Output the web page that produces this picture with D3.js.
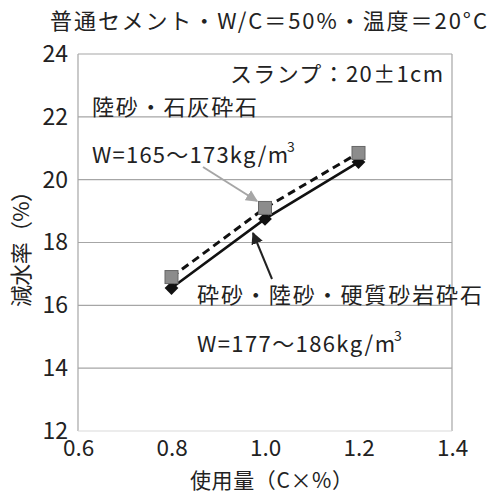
<!DOCTYPE html>
<html><head><meta charset="utf-8">
<script src="https://cdn.jsdelivr.net/npm/d3@7"></script>
<style>
html,body{margin:0;padding:0;background:#fff;}
text{font-family:"Noto Sans CJK JP","Noto Sans",sans-serif;fill:#222;}
</style></head>
<body><svg id="c" width="490" height="495"></svg>
<script>
const xDoses = [0.8, 1.0, 1.2];
const seriesLimestone = [16.9, 19.1, 20.85];   // 陸砂・石灰砕石 (gray squares, dashed)
const seriesSandstone = [16.55, 18.75, 20.56]; // 砕砂・陸砂・硬質砂岩砕石 (black diamonds, solid)
const xTicks = [0.6, 0.8, 1.0, 1.2, 1.4];
const yTicks = [12, 14, 16, 18, 20, 22, 24];

const svg = d3.select("#c");
const L = 78, R = 452, T = 54, B = 431;
const x = d3.scaleLinear().domain([0.6, 1.4]).range([L, R]);
const y = d3.scaleLinear().domain([12, 24]).range([B, T]);

// grid
svg.append("g").selectAll("line").data(yTicks.filter(v => v > 12 && v < 24)).join("line")
  .attr("x1", L).attr("x2", R).attr("y1", d => y(d)).attr("y2", d => y(d))
  .attr("stroke", "#a6a6a6").attr("stroke-width", 1.2);
// frame
svg.append("line").attr("x1", L).attr("x2", R).attr("y1", T).attr("y2", T).attr("stroke", "#a6a6a6").attr("stroke-width", 1.2);
svg.append("line").attr("x1", R).attr("x2", R).attr("y1", T).attr("y2", B).attr("stroke", "#a6a6a6").attr("stroke-width", 1.2);
svg.append("line").attr("x1", L).attr("x2", L).attr("y1", T).attr("y2", B).attr("stroke", "#a6a6a6").attr("stroke-width", 1.2);
svg.append("line").attr("x1", L).attr("x2", R).attr("y1", B).attr("y2", B).attr("stroke", "#d9d9d9").attr("stroke-width", 1.2);

// axes tick labels via d3 axes
const yAxis = svg.append("g").attr("transform", `translate(${L},0)`)
  .call(d3.axisLeft(y).tickValues(yTicks).tickFormat(d3.format("d")).tickSize(0).tickPadding(10));
yAxis.select(".domain").remove();
yAxis.selectAll("text").attr("font-size", 23).attr("fill", "#222")
  .attr("font-family", '"Noto Sans CJK JP",sans-serif');

const xAxis = svg.append("g").attr("transform", `translate(0,${B})`)
  .call(d3.axisBottom(x).tickValues(xTicks).tickFormat(d3.format(".1f")).tickSize(0).tickPadding(9));
xAxis.select(".domain").remove();
xAxis.selectAll("text").attr("font-size", 22.5).attr("fill", "#222")
  .attr("font-family", '"Noto Sans CJK JP",sans-serif');

function label(xp, yp, str, len, size) {
  return svg.append("text").attr("x", xp).attr("y", yp).attr("font-size", size || 22)
    .attr("textLength", len).attr("lengthAdjust", "spacing").text(str);
}

// titles
label(50, 29, "普通セメント・W/C＝50%・温度＝20°C", 437);
label(190, 488, "使用量（C×%）", 163, 21);
svg.append("text").attr("transform", "translate(29,307) rotate(-90)").attr("font-size", 22)
  .attr("textLength", 127).attr("lengthAdjust", "spacing").text("減水率（%）");

// annotations
label(230, 82, "スランプ：20±1cm", 213);
label(92, 115, "陸砂・石灰砕石", 165);
label(92, 163, "W=165～173kg/m", 196);
svg.append("text").attr("x", 287).attr("y", 152).attr("font-size", 14).text("3");
label(197, 303, "砕砂・陸砂・硬質砂岩砕石", 285);
label(197, 352, "W=177～186kg/m", 198);
svg.append("text").attr("x", 394).attr("y", 341).attr("font-size", 14).text("3");

// arrow markers
const defs = svg.append("defs");
defs.append("marker").attr("id", "ag").attr("viewBox", "0 0 10 10").attr("refX", 9).attr("refY", 5)
  .attr("markerWidth", 6).attr("markerHeight", 6).attr("markerUnits", "strokeWidth").attr("orient", "auto")
  .append("path").attr("d", "M0,0L10,5L0,10z").attr("fill", "#a6a6a6");
defs.append("marker").attr("id", "ab").attr("viewBox", "0 0 10 10").attr("refX", 9).attr("refY", 5)
  .attr("markerWidth", 6).attr("markerHeight", 6).attr("markerUnits", "strokeWidth").attr("orient", "auto")
  .append("path").attr("d", "M0,0L10,5L0,10z").attr("fill", "#222");

// lines
const line = d3.line().x((d, i) => x(xDoses[i])).y(d => y(d));
svg.append("path").attr("d", line(seriesSandstone)).attr("fill", "none").attr("stroke", "#111").attr("stroke-width", 2.6);
svg.append("path").attr("d", line(seriesLimestone)).attr("fill", "none").attr("stroke", "#111").attr("stroke-width", 3)
  .attr("stroke-dasharray", "8,5");

// markers: diamonds then squares
svg.append("g").selectAll("path").data(seriesSandstone).join("path")
  .attr("transform", (d, i) => `translate(${x(xDoses[i])},${y(d)})`)
  .attr("d", d3.symbol(d3.symbolDiamond2, 120)()).attr("fill", "#111");
svg.append("g").selectAll("rect").data(seriesLimestone).join("rect")
  .attr("x", (d, i) => x(xDoses[i]) - 6.5).attr("y", d => y(d) - 6.5)
  .attr("width", 13).attr("height", 13).attr("fill", "#8c8c8c").attr("stroke", "#666").attr("stroke-width", 1);

// arrows
svg.append("line").attr("x1", 203).attr("y1", 167).attr("x2", 257).attr("y2", 201)
  .attr("stroke", "#a6a6a6").attr("stroke-width", 2).attr("marker-end", "url(#ag)");
svg.append("line").attr("x1", 272).attr("y1", 279).attr("x2", 253).attr("y2", 233)
  .attr("stroke", "#222").attr("stroke-width", 2).attr("marker-end", "url(#ab)");
</script></body></html>
